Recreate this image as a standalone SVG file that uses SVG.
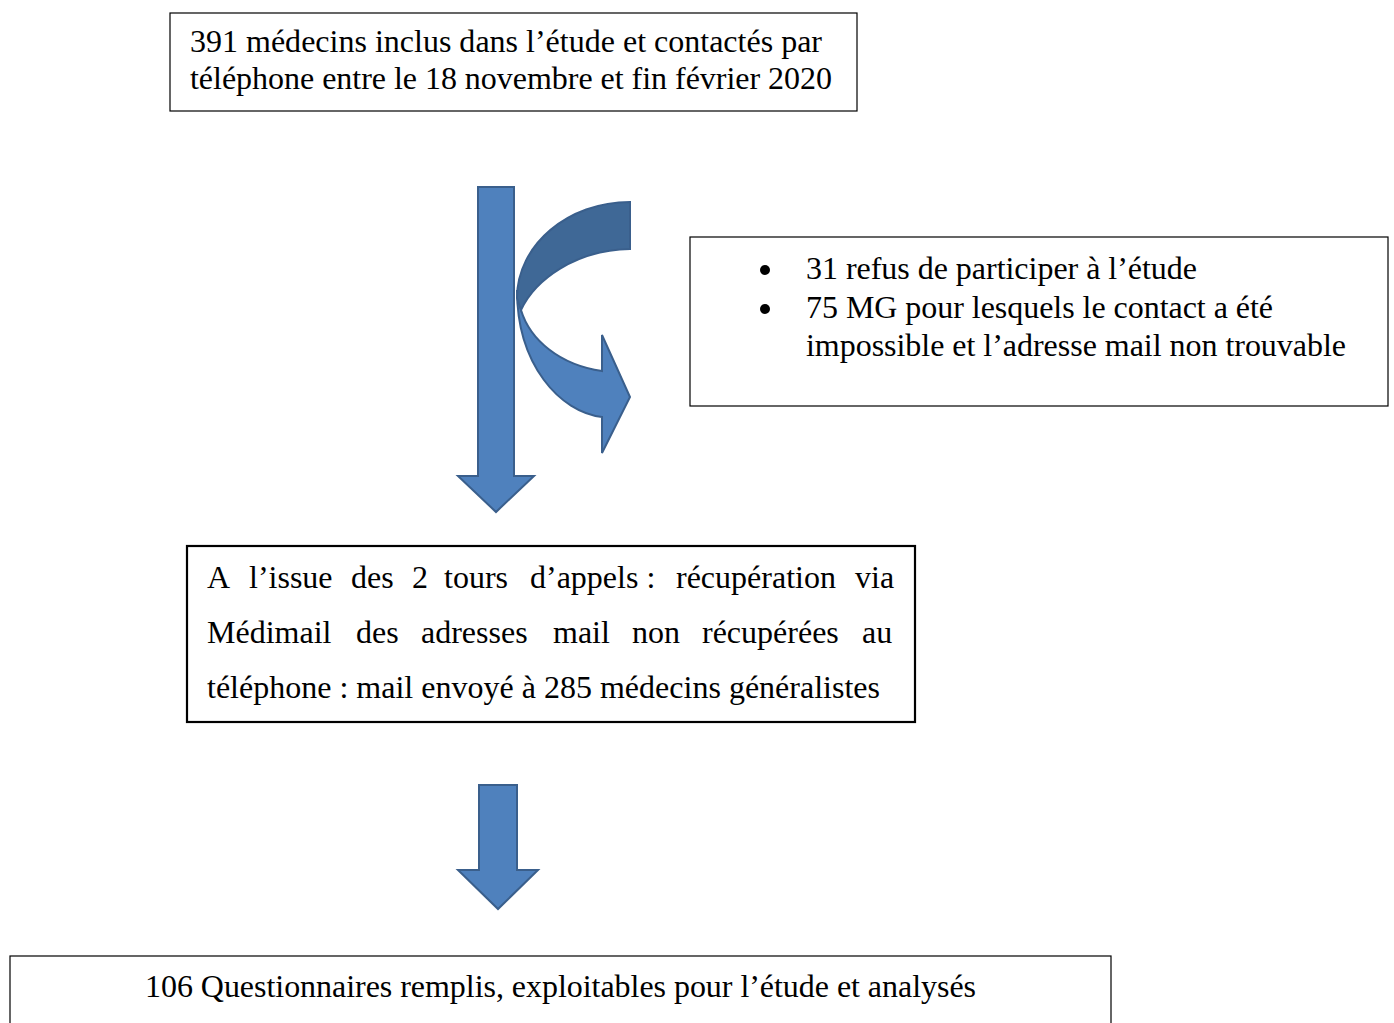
<svg xmlns="http://www.w3.org/2000/svg" width="1394" height="1023" viewBox="0 0 1394 1023">
<style>
.box{fill:#fff;stroke:#000;stroke-width:1.2}
.box2{fill:#fff;stroke:#000;stroke-width:2.2}
.t{font-family:'Liberation Serif','Times New Roman',serif;font-size:32px;fill:#000}
.arr{fill:#4F81BD;stroke:#3A5F8C;stroke-width:2;stroke-linejoin:miter}
.arrd{fill:#3F6896;stroke:#3A5F8C;stroke-width:2}
</style>
<rect width="1394" height="1023" fill="#fff"/>
<g id="connectors">
<path id="arrow1" class="arr" d="M478,187 L514,187 L514,476 L534,476 L496,512 L458,476 L478,476 Z"/>
<g id="curved-arrow">
<path class="arr" d="M517,290 C517,365 560,412 602,417 L602,453 L630,397 L602,335 L602,371 C560,365 530,340 521,310 Z"/>
<path class="arrd" d="M630,202 C568,202 517,245 517,298 L521,310 C535,280 575,250 630,249 Z"/>
</g>
<path id="arrow2" class="arr" d="M479,785 L517,785 L517,870 L538,870 L498,909 L458,870 L479,870 Z"/>
</g>
<g id="node-top">
<rect class="box" x="170" y="13" width="687" height="98"/>
<text class="t" x="190" y="52" textLength="632" lengthAdjust="spacing">391 médecins inclus dans l’étude et contactés par</text>
<text class="t" x="190" y="89" textLength="642" lengthAdjust="spacing">téléphone entre le 18 novembre et fin février 2020</text>
</g>
<g id="node-exclusions">
<rect class="box" x="690" y="237" width="698" height="169"/>
<circle cx="765" cy="270" r="5" fill="#000"/>
<circle cx="765" cy="309" r="5" fill="#000"/>
<text class="t" x="806" y="279" textLength="391" lengthAdjust="spacing">31 refus de participer à l’étude</text>
<text class="t" x="806" y="318" textLength="467" lengthAdjust="spacing">75 MG pour lesquels le contact a été</text>
<text class="t" x="806" y="356" textLength="540" lengthAdjust="spacing">impossible et l’adresse mail non trouvable</text>
</g>
<g id="node-middle">
<rect class="box2" x="187" y="546" width="728" height="176"/>
<text class="t" y="588"><tspan x="207">A</tspan><tspan x="249">l’issue</tspan><tspan x="351">des</tspan><tspan x="412">2</tspan><tspan x="444">tours</tspan><tspan x="530">d’appels :</tspan><tspan x="676">récupération</tspan><tspan x="855">via</tspan></text>
<text class="t" y="643"><tspan x="207">Médimail</tspan><tspan x="356">des</tspan><tspan x="421">adresses</tspan><tspan x="553">mail</tspan><tspan x="632">non</tspan><tspan x="702">récupérées</tspan><tspan x="862">au</tspan></text>
<text class="t" x="207" y="698" textLength="673" lengthAdjust="spacing">téléphone : mail envoyé à 285 médecins généralistes</text>
</g>
<g id="node-bottom">
<rect class="box" x="10" y="956" width="1101" height="80"/>
<text class="t" x="145" y="997" textLength="831" lengthAdjust="spacing">106 Questionnaires remplis, exploitables pour l’étude et analysés</text>
</g>
</svg>
